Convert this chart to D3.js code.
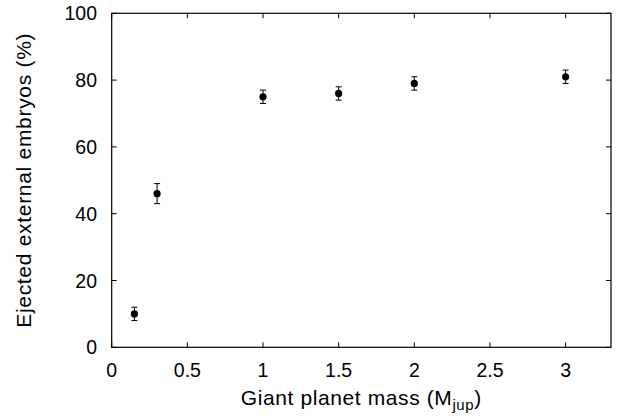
<!DOCTYPE html>
<html><head><meta charset="utf-8">
<script src="https://cdn.jsdelivr.net/npm/d3@7"></script>
<style>body{margin:0;background:#fff}svg{display:block}text{font-family:"Liberation Sans",Arial,sans-serif;fill:#000}</style>
</head><body>
<svg id="c" width="617" height="419"></svg>
<script>
const masses = [0.15, 0.3, 1, 1.5, 2, 3];
const ejected = [10, 46, 75, 76, 79, 81];
const errors = [2, 3, 2, 2, 2, 2];
const xTicks = [0, 0.5, 1, 1.5, 2, 2.5, 3];
const yTicks = [0, 20, 40, 60, 80, 100];

const svg = d3.select("#c");
const L = 111.7, R = 611, T = 13.3, B = 347.3;
const x = d3.scaleLinear().domain([0, 3.3]).range([L, R]);
const y = d3.scaleLinear().domain([0, 100]).range([B, T]);
const tl = 5;

// frame
svg.append("rect").attr("x", L).attr("y", T).attr("width", R - L).attr("height", B - T)
  .attr("fill", "none").attr("stroke", "#000").attr("stroke-width", 1.2);

// ticks (inward, mirrored)
const g = svg.append("g").attr("stroke", "#000").attr("stroke-width", 1);
xTicks.forEach(t => {
  g.append("line").attr("x1", x(t)).attr("x2", x(t)).attr("y1", B).attr("y2", B - tl);
  g.append("line").attr("x1", x(t)).attr("x2", x(t)).attr("y1", T).attr("y2", T + tl);
});
yTicks.forEach(t => {
  g.append("line").attr("y1", y(t)).attr("y2", y(t)).attr("x1", L).attr("x2", L + tl);
  g.append("line").attr("y1", y(t)).attr("y2", y(t)).attr("x1", R).attr("x2", R - tl);
});

// tick labels
svg.selectAll(".xl").data(xTicks).enter().append("text")
  .attr("x", d => x(d)).attr("y", 376.5).attr("text-anchor", "middle")
  .attr("font-size", 19.5).text(d => d);
svg.selectAll(".yl").data(yTicks).enter().append("text")
  .attr("x", 97).attr("y", d => y(d) + 7).attr("text-anchor", "end")
  .attr("font-size", 19.5).text(d => d);

// axis titles
const xt = svg.append("text").attr("x", (L + R) / 2).attr("y", 405)
  .attr("text-anchor", "middle").attr("font-size", 21).attr("letter-spacing", 0.6);
xt.append("tspan").text("Giant planet mass (M");
xt.append("tspan").attr("font-size", 15).attr("dy", 5).text("jup");
xt.append("tspan").attr("dy", -5).text(")");

svg.append("text").attr("transform", `translate(31,${(T + B) / 2}) rotate(-90)`)
  .attr("text-anchor", "middle").attr("font-size", 21).attr("letter-spacing", 0.7)
  .text("Ejected external embryos (%)");

// error bars and points
const data = masses.map((m, i) => ({ m, v: ejected[i], e: errors[i] }));
const eb = svg.append("g").attr("stroke", "#000").attr("stroke-width", 1);
data.forEach(d => {
  eb.append("line").attr("x1", x(d.m)).attr("x2", x(d.m)).attr("y1", y(d.v - d.e)).attr("y2", y(d.v + d.e));
  eb.append("line").attr("x1", x(d.m) - 3).attr("x2", x(d.m) + 3).attr("y1", y(d.v - d.e)).attr("y2", y(d.v - d.e));
  eb.append("line").attr("x1", x(d.m) - 3).attr("x2", x(d.m) + 3).attr("y1", y(d.v + d.e)).attr("y2", y(d.v + d.e));
});
svg.selectAll(".pt").data(data).enter().append("circle")
  .attr("cx", d => x(d.m)).attr("cy", d => y(d.v)).attr("r", 3.6).attr("fill", "#000");
</script>
</body></html>
